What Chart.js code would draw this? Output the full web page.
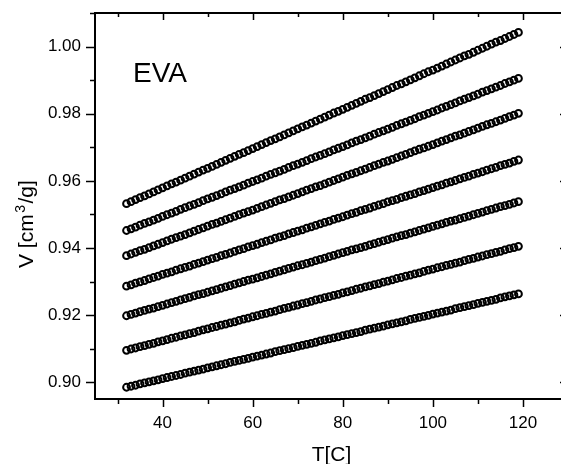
<!DOCTYPE html>
<html lang="en">
<head>
  <meta charset="UTF-8" />
  <title>EVA specific volume vs temperature</title>
  <script src="https://cdn.jsdelivr.net/npm/chart.js"></script>
  <style>
    html, body {
      margin: 0;
      padding: 0;
      background: #fff;
      overflow: hidden;
    }
    .chart-box {
      width: 575px;
      height: 464px;
    }
  </style>
</head>
<body>
  <div class="chart-box">
    <canvas id="pvtChart" width="575" height="464"></canvas>
  </div>

  <script>
    // temperature (C), shared by all isobars
    const temps = [32,33,34,35,36,37,38,39,40,41,42,43,44,45,46,47,48,49,50,51,52,53,54,55,56,57,58,59,60,61,
      62,63,64,65,66,67,68,69,70,71,72,73,74,75,76,77,78,79,80,81,82,83,84,85,86,87,88,89,90,91,
      92,93,94,95,96,97,98,99,100,101,102,103,104,105,106,107,108,109,110,111,112,113,114,115,116,117,118,119];

    // specific volume (cm3/g), top curve first
    const curve1 = [0.9532,0.9538,0.9544,0.9550,0.9555,0.9561,0.9567,0.9573,0.9579,0.9585,0.9591,0.9596,0.9602,0.9608,0.9614,
      0.9620,0.9626,0.9632,0.9637,0.9643,0.9649,0.9655,0.9661,0.9667,0.9673,0.9679,0.9684,0.9690,0.9696,0.9702,
      0.9708,0.9714,0.9720,0.9725,0.9731,0.9737,0.9743,0.9749,0.9755,0.9761,0.9766,0.9772,0.9778,0.9784,0.9790,
      0.9796,0.9802,0.9807,0.9813,0.9819,0.9825,0.9831,0.9837,0.9843,0.9848,0.9854,0.9860,0.9866,0.9872,0.9878,
      0.9884,0.9889,0.9895,0.9901,0.9907,0.9913,0.9919,0.9925,0.9930,0.9936,0.9942,0.9948,0.9954,0.9960,0.9966,
      0.9972,0.9977,0.9983,0.9989,0.9995,1.0001,1.0007,1.0013,1.0018,1.0024,1.0030,1.0036,1.0042];
    const curve2 = [0.9452,0.9457,0.9462,0.9468,0.9473,0.9478,0.9483,0.9488,0.9494,0.9499,0.9504,0.9509,0.9515,0.9520,0.9525,
      0.9530,0.9535,0.9541,0.9546,0.9551,0.9556,0.9561,0.9567,0.9572,0.9577,0.9582,0.9587,0.9593,0.9598,0.9603,
      0.9608,0.9614,0.9619,0.9624,0.9629,0.9634,0.9640,0.9645,0.9650,0.9655,0.9660,0.9666,0.9671,0.9676,0.9681,
      0.9686,0.9692,0.9697,0.9702,0.9707,0.9713,0.9718,0.9723,0.9728,0.9733,0.9739,0.9744,0.9749,0.9754,0.9759,
      0.9765,0.9770,0.9775,0.9780,0.9785,0.9791,0.9796,0.9801,0.9806,0.9811,0.9817,0.9822,0.9827,0.9832,0.9838,
      0.9843,0.9848,0.9853,0.9858,0.9864,0.9869,0.9874,0.9879,0.9884,0.9890,0.9895,0.9900,0.9905];
    const curve3 = [0.9377,0.9382,0.9387,0.9392,0.9396,0.9401,0.9406,0.9411,0.9416,0.9421,0.9426,0.9431,0.9435,0.9440,0.9445,
      0.9450,0.9455,0.9460,0.9465,0.9470,0.9474,0.9479,0.9484,0.9489,0.9494,0.9499,0.9504,0.9508,0.9513,0.9518,
      0.9523,0.9528,0.9533,0.9538,0.9543,0.9547,0.9552,0.9557,0.9562,0.9567,0.9572,0.9577,0.9582,0.9586,0.9591,
      0.9596,0.9601,0.9606,0.9611,0.9616,0.9621,0.9625,0.9630,0.9635,0.9640,0.9645,0.9650,0.9655,0.9659,0.9664,
      0.9669,0.9674,0.9679,0.9684,0.9689,0.9694,0.9698,0.9703,0.9708,0.9713,0.9718,0.9723,0.9728,0.9733,0.9737,
      0.9742,0.9747,0.9752,0.9757,0.9762,0.9767,0.9771,0.9776,0.9781,0.9786,0.9791,0.9796,0.9801];
    const curve4 = [0.9286,0.9290,0.9295,0.9299,0.9303,0.9308,0.9312,0.9316,0.9321,0.9325,0.9329,0.9334,0.9338,0.9342,0.9346,
      0.9351,0.9355,0.9359,0.9364,0.9368,0.9372,0.9377,0.9381,0.9385,0.9390,0.9394,0.9398,0.9403,0.9407,0.9411,
      0.9416,0.9420,0.9424,0.9429,0.9433,0.9437,0.9442,0.9446,0.9450,0.9454,0.9459,0.9463,0.9467,0.9472,0.9476,
      0.9480,0.9485,0.9489,0.9493,0.9498,0.9502,0.9506,0.9511,0.9515,0.9519,0.9524,0.9528,0.9532,0.9537,0.9541,
      0.9545,0.9550,0.9554,0.9558,0.9562,0.9567,0.9571,0.9575,0.9580,0.9584,0.9588,0.9593,0.9597,0.9601,0.9606,
      0.9610,0.9614,0.9619,0.9623,0.9627,0.9632,0.9636,0.9640,0.9645,0.9649,0.9653,0.9658,0.9662];
    const curve5 = [0.9198,0.9202,0.9206,0.9210,0.9214,0.9218,0.9221,0.9225,0.9229,0.9233,0.9237,0.9241,0.9245,0.9249,0.9253,
      0.9257,0.9261,0.9264,0.9268,0.9272,0.9276,0.9280,0.9284,0.9288,0.9292,0.9296,0.9300,0.9304,0.9307,0.9311,
      0.9315,0.9319,0.9323,0.9327,0.9331,0.9335,0.9339,0.9343,0.9347,0.9350,0.9354,0.9358,0.9362,0.9366,0.9370,
      0.9374,0.9378,0.9382,0.9386,0.9390,0.9394,0.9397,0.9401,0.9405,0.9409,0.9413,0.9417,0.9421,0.9425,0.9429,
      0.9433,0.9437,0.9440,0.9444,0.9448,0.9452,0.9456,0.9460,0.9464,0.9468,0.9472,0.9476,0.9480,0.9483,0.9487,
      0.9491,0.9495,0.9499,0.9503,0.9507,0.9511,0.9515,0.9519,0.9523,0.9526,0.9530,0.9534,0.9538];
    const curve6 = [0.9095,0.9099,0.9102,0.9106,0.9109,0.9113,0.9116,0.9120,0.9123,0.9127,0.9131,0.9134,0.9138,0.9141,0.9145,
      0.9148,0.9152,0.9156,0.9159,0.9163,0.9166,0.9170,0.9173,0.9177,0.9180,0.9184,0.9188,0.9191,0.9195,0.9198,
      0.9202,0.9205,0.9209,0.9212,0.9216,0.9220,0.9223,0.9227,0.9230,0.9234,0.9237,0.9241,0.9245,0.9248,0.9252,
      0.9255,0.9259,0.9262,0.9266,0.9269,0.9273,0.9277,0.9280,0.9284,0.9287,0.9291,0.9294,0.9298,0.9301,0.9305,
      0.9309,0.9312,0.9316,0.9319,0.9323,0.9326,0.9330,0.9334,0.9337,0.9341,0.9344,0.9348,0.9351,0.9355,0.9358,
      0.9362,0.9366,0.9369,0.9373,0.9376,0.9380,0.9383,0.9387,0.9390,0.9394,0.9398,0.9401,0.9405];
    const curve7 = [0.8985,0.8988,0.8991,0.8995,0.8998,0.9001,0.9004,0.9007,0.9011,0.9014,0.9017,0.9020,0.9023,0.9027,0.9030,
      0.9033,0.9036,0.9039,0.9043,0.9046,0.9049,0.9052,0.9055,0.9059,0.9062,0.9065,0.9068,0.9071,0.9075,0.9078,
      0.9081,0.9084,0.9087,0.9091,0.9094,0.9097,0.9100,0.9103,0.9107,0.9110,0.9113,0.9116,0.9119,0.9123,0.9126,
      0.9129,0.9132,0.9135,0.9139,0.9142,0.9145,0.9148,0.9151,0.9155,0.9158,0.9161,0.9164,0.9167,0.9171,0.9174,
      0.9177,0.9180,0.9183,0.9187,0.9190,0.9193,0.9196,0.9199,0.9203,0.9206,0.9209,0.9212,0.9215,0.9219,0.9222,
      0.9225,0.9228,0.9231,0.9235,0.9238,0.9241,0.9244,0.9247,0.9251,0.9254,0.9257,0.9260,0.9263];

    const curves = [curve1, curve2, curve3, curve4, curve5, curve6, curve7];

    const FONT = "'Liberation Sans', Arial, sans-serif";

    // Origin-style frame: box, outward ticks left/bottom, inward ticks top/right
    const framePlugin = {
      id: 'frame',
      afterDatasetsDraw(chart) {
        const { ctx, chartArea: a, scales } = chart;
        const xs = scales.x, ys = scales.y;
        ctx.save();
        ctx.strokeStyle = '#000';
        ctx.lineWidth = 2;
        ctx.strokeRect(a.left, a.top, a.right - a.left, a.bottom - a.top);

        ctx.lineWidth = 1.5;
        ctx.beginPath();
        for (let k = Math.ceil(xs.min / 10); k * 10 <= xs.max; k++) {
          const px = Math.round(xs.getPixelForValue(k * 10)) + 0.5;
          const major = k % 2 === 0;
          ctx.moveTo(px, a.bottom);
          ctx.lineTo(px, a.bottom + (major ? 8 : 5));
          ctx.moveTo(px, a.top);
          ctx.lineTo(px, a.top + (major ? 7 : 4));
        }
        for (let k = Math.ceil(ys.min / 0.01 - 1e-6); k * 0.01 <= ys.max + 1e-9; k++) {
          const py = Math.round(ys.getPixelForValue(k * 0.01)) + 0.5;
          const major = k % 2 === 0;
          ctx.moveTo(a.left, py);
          ctx.lineTo(a.left - (major ? 9 : 5), py);
          ctx.moveTo(a.right, py);
          ctx.lineTo(a.right - (major ? 8 : 4), py);
        }
        ctx.stroke();

        // titles
        ctx.fillStyle = '#000';
        ctx.font = '21px ' + FONT;
        ctx.textAlign = 'center';
        ctx.textBaseline = 'alphabetic';
        ctx.fillText('T[C]', (a.left + a.right) / 2, 461);

        ctx.save();
        ctx.translate(33, 268);
        ctx.rotate(-Math.PI / 2);
        ctx.textAlign = 'left';
        ctx.font = '21px ' + FONT;
        const p1 = 'V [cm';
        ctx.fillText(p1, 0, 0);
        let w = ctx.measureText(p1).width + 1.5;
        ctx.font = '14px ' + FONT;
        ctx.fillText('3', w, -8);
        w += ctx.measureText('3').width + 1.5;
        ctx.font = '21px ' + FONT;
        ctx.fillText('/g]', w, 0);
        ctx.restore();

        ctx.font = '28px ' + FONT;
        ctx.textAlign = 'left';
        ctx.fillText('EVA', 133, 82);
        ctx.restore();
      }
    };

    // drop the half-label padding Chart.js reserves so the plot box sits where Origin put it
    const noPad = s => {
      s.paddingTop = 0;
      s.paddingBottom = 0;
      s.paddingLeft = 0;
      s.paddingRight = 0;
    };

    new Chart(document.getElementById('pvtChart'), {
      type: 'scatter',
      data: {
        datasets: curves.map(vals => ({
          data: temps.map((t, i) => ({ x: t, y: vals[i] })),
          pointStyle: 'circle',
          pointRadius: 3.4,
          pointBorderWidth: 2,
          pointBorderColor: '#000',
          pointBackgroundColor: 'rgba(0,0,0,0)',
          showLine: false
        }))
      },
      options: {
        responsive: false,
        animation: false,
        events: [],
        layout: { padding: { top: 13, right: 7, left: 0, bottom: 0 } },
        plugins: { legend: { display: false }, tooltip: { enabled: false } },
        scales: {
          x: {
            type: 'linear',
            min: 25,
            max: 130,
            afterFit: s => { s.height = 65; noPad(s); },
            grid: { display: false, drawTicks: false },
            border: { display: false },
            ticks: {
              stepSize: 20,
              includeBounds: false,
              padding: 14,
              color: '#000',
              font: { family: FONT, size: 17 }
            }
          },
          y: {
            min: 0.895,
            max: 1.01,
            afterFit: s => { s.width = 95; noPad(s); },
            grid: { display: false, drawTicks: false },
            border: { display: false },
            ticks: {
              stepSize: 0.02,
              includeBounds: false,
              padding: 14,
              color: '#000',
              font: { family: FONT, size: 17 },
              callback: v => v.toFixed(2)
            }
          }
        }
      },
      plugins: [framePlugin]
    });
  </script>
</body>
</html>
